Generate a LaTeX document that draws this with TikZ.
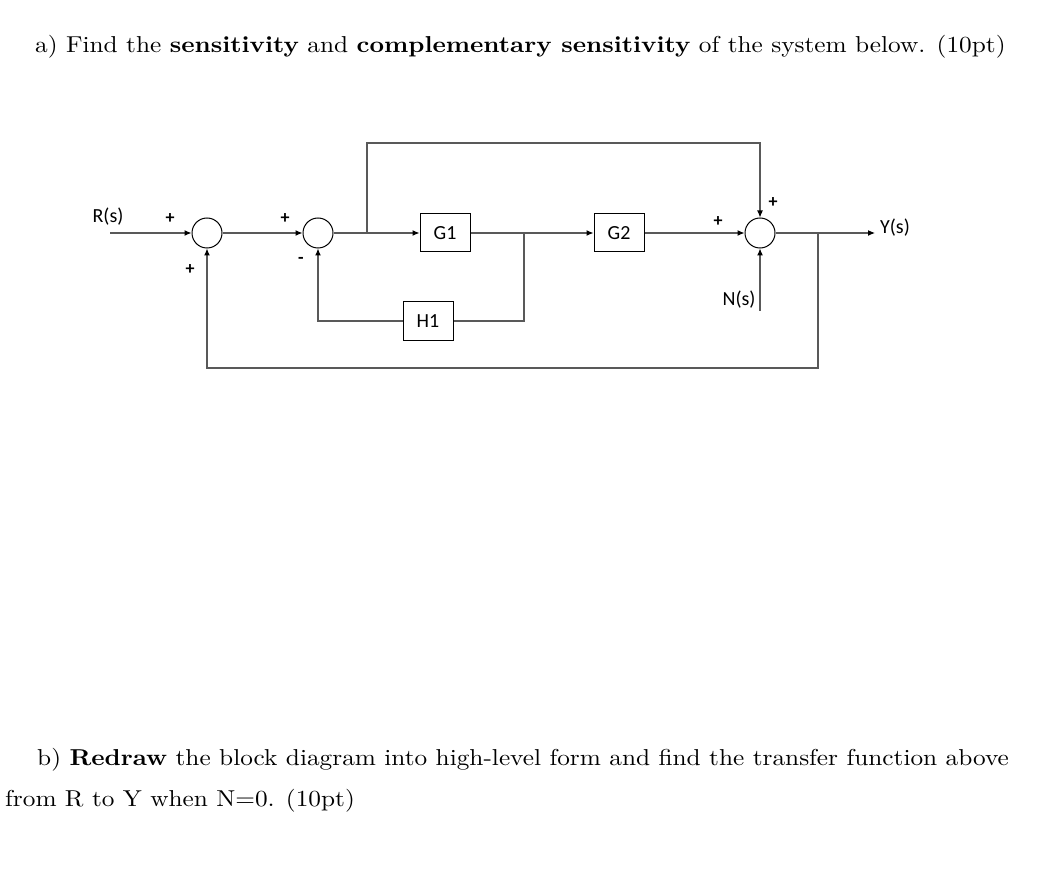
\documentclass[tikz,border=0pt]{standalone}
\usepackage{fontspec}
\newfontfamily\carl{Carlito}
\newfontfamily\txtf{lmroman10-regular.otf}[BoldFont=lmroman10-bold.otf,FakeStretch=1.10]
\usetikzlibrary{arrows.meta}
\begin{document}
\begin{tikzpicture}[x=1pt,y=-1pt,
  ln/.style={draw=black!65,line width=1.1pt},
  ar/.style={ln,-{Latex[length=7pt,width=6pt,color=black]}},
  sum/.style={circle,draw=black,line width=1pt,minimum size=30pt,inner sep=0pt},
  blk/.style={draw=black,line width=1pt,minimum width=50pt,minimum height=38pt,inner sep=0pt,font=\carl\fontsize{20}{22}\selectfont},
  lab/.style={font=\carl\fontsize{20}{22}\selectfont,inner sep=0pt},
  sg/.style={font=\carl\bfseries\fontsize{18}{19}\selectfont,inner sep=0pt},
  txt/.style={font=\txtf\fontsize{23}{27}\selectfont,inner sep=0pt,anchor=base west}]
\useasboundingbox (0,0) rectangle (1062,874);
\node[txt] (ta) at (35,53) {a) Find the \textbf{sensitivity} and \textbf{complementary sensitivity} of the system below. (10pt)};
\node[txt] (tb1) at (37,765) {b) \textbf{Redraw} the block diagram into high-level form and find the transfer function above};
\node[txt] (tb2) at (5,806) {from R to Y when N=0. (10pt)};

\node[sum] (s1) at (207,233) {};
\node[sum] (s2) at (318,233) {};
\node[sum] (s3) at (760,233) {};
\node[blk] (g1) at (445,233) {G1};
\node[blk] (g2) at (619,233) {G2};
\node[blk] (h1) at (428,321) {H1};
\node[lab] (r) at (108,217) {R(s)};
\node[lab] (y) at (895,228) {Y(s)};
\node[lab] (n) at (739,300) {N(s)};
\coordinate (rin) at (110,233);
\coordinate (yout) at (875,233);
\coordinate (nin) at (760,311);

\node[sg] at (170,219) {+};
\node[sg] at (190,270) {+};
\node[sg] at (285,219) {+};
\node[sg] at (301,260) {-};
\node[sg] at (718,222) {+};
\node[sg] at (773,203) {+};

\draw[ar] (rin) -- (s1.west);
\draw[ar] (s1.east) -- (s2.west);
\draw[ar] (s2.east) -- (g1.west);
\draw[ar] (g1.east) -- (g2.west);
\draw[ar] (g2.east) -- (s3.west);
\draw[ar] (s3.east) -- (yout);
\draw[ar] (nin) -- (s3.south);
\draw[ar] (367,233) |- (760,143) -- (s3.north);
\draw[ar] (524,233) |- (h1.east) (h1.west) -| (s2.south);
\draw[ar] (818,233) |- (207,368) -- (s1.south);
\end{tikzpicture}
\end{document}
